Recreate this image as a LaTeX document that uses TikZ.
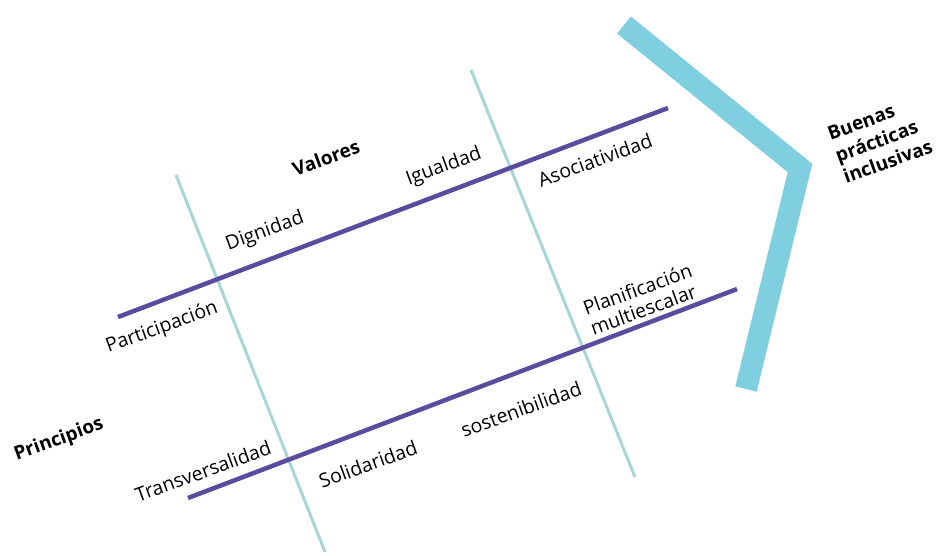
\documentclass[tikz,border=0pt]{standalone}
\usepackage{fontspec}
\setmainfont{Open Sans}
\definecolor{bonepurple}{HTML}{5A4B9E}
\definecolor{ribblue}{HTML}{A8D5D9}
\definecolor{headblue}{HTML}{80CFE0}
\begin{document}
\begin{tikzpicture}[x=1pt,y=-1pt]
    \tikzstyle{word} = [rotate=20, inner sep=0pt, font=\fontsize{19.5}{21}\selectfont]
    \tikzstyle{title} = [word, font=\fontsize{19}{23}\selectfont\bfseries]
    \tikzstyle{bone} = [bonepurple, line width=4.5pt]
    \tikzstyle{rib} = [ribblue, line width=3pt]
    \useasboundingbox (0,0) rectangle (938,555);

    % end points of the spines and ribs
    \coordinate (valtop) at (118,317);
    \coordinate (valend) at (668,108);
    \coordinate (printop) at (188,498);
    \coordinate (prinend) at (737,289);
    \coordinate (ribatop) at (176,175);
    \coordinate (ribaend) at (325,552);
    \coordinate (ribbtop) at (471,70);
    \coordinate (ribbend) at (635,477);
    \coordinate (headtop) at (624,25);
    \coordinate (headtip) at (800,168);
    \coordinate (headend) at (746,389);

    \draw [rib] (ribatop) -- (ribaend);
    \draw [rib] (ribbtop) -- (ribbend);
    \draw [bone] (valtop) -- (valend);
    \draw [bone] (printop) -- (prinend);
    \draw [headblue, line width=22pt] (headtop) -- (headtip) -- (headend);

    \node (valores) [title] at (326,158) {Valores};
    \node (principios) [title] at (59,440) {Principios};
    \node (buenas) [title, align=left] at (880,140) {Buenas\\prácticas\\inclusivas};

    \node (dignidad) [word] at (265,232) {Dignidad};
    \node (igualdad) [word] at (444,167) {Igualdad};
    \node (asociatividad) [word] at (595,160) {Asociatividad};
    \node (participacion) [word] at (162,328) {Participación};
    \node (planificacion) [word, align=left] at (641,299) {Planificación\\multiescalar};
    \node (transversalidad) [word] at (203,471) {Transversalidad};
    \node (solidaridad) [word] at (368,464) {Solidaridad};
    \node (sostenibilidad) [word] at (521,409) {sostenibilidad};

\end{tikzpicture}
\end{document}
